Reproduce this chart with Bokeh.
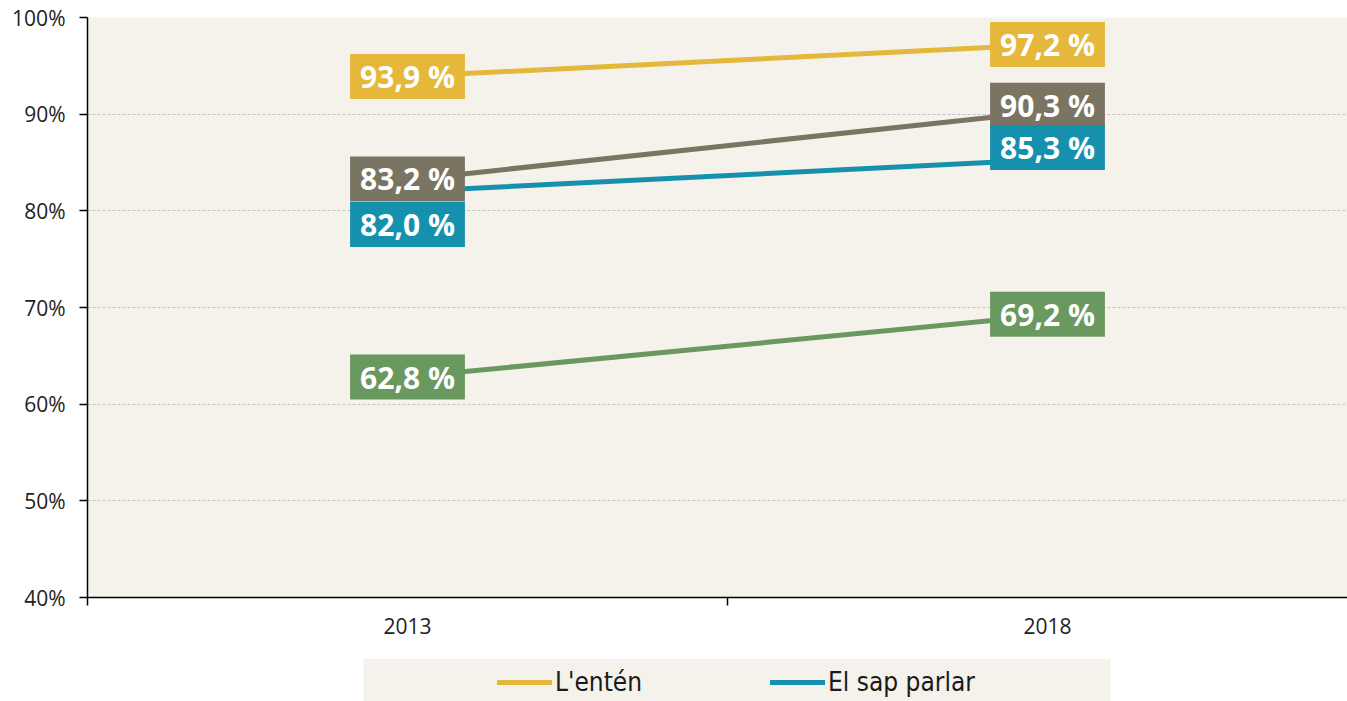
from bokeh.plotting import figure
from bokeh.models import (Range1d, FixedTicker, Legend, LegendItem, Label,
                          CustomJSTickFormatter, PrintfTickFormatter)
from bokeh.layouts import column
from bokeh.embed import file_html
from bokeh.resources import INLINE

# ---- data ----
years = ["2013", "2018"]
lenten = [93.9, 97.2]          # L'entén
sap_llegir = [83.2, 90.3]      # El sap llegir
sap_parlar = [82.0, 85.3]      # El sap parlar
sap_escriure = [62.8, 69.2]    # El sap escriure
y_ticks = [40, 50, 60, 70, 80, 90, 100]

# ---- styles ----
C_YEL = "#E5B83B"
C_GRY = "#7A7562"
C_BLU = "#1591AD"
C_GRN = "#6A9960"
BG = "#F5F1EB"

series = [
    (lenten, C_YEL, [0, 0]),
    (sap_llegir, C_GRY, [1, 6]),
    (sap_parlar, C_BLU, [-33, 12]),
    (sap_escriure, C_GRN, [0, 1]),
]

xc = [i + 0.5 for i in range(len(years))]
edges = list(range(len(years) + 1))

FRAME_W = 1260
p = figure(frame_width=FRAME_W, frame_height=580,
           min_border_left=87, min_border_top=17, min_border_right=0,
           min_border_bottom=60,
           x_range=Range1d(0, FRAME_W / 640), y_range=Range1d(40, 100),
           output_backend="svg", toolbar_location=None)
p.background_fill_color = BG
p.border_fill_color = "white"
p.outline_line_color = None

for vals, col, _ in series:
    p.line(xc, vals, line_width=5, line_color=col, line_cap="round")

for vals, col, offs in series:
    for xi, v, dy in zip(xc, vals, offs):
        p.add_layout(Label(
            x=xi, y=v, y_offset=dy,
            text=(f"{v:.1f}".replace(".", ",") + " %"),
            text_font="Open Sans", text_font_style="bold",
            text_font_size="30px", text_color="white",
            text_align="center", text_baseline="middle",
            background_fill_color=col, background_fill_alpha=1.0,
            padding=dict(left=10, right=10, top=2, bottom=2)))

# y axis
p.yaxis.ticker = FixedTicker(ticks=y_ticks)
p.yaxis.formatter = PrintfTickFormatter(format="%d%%")
p.yaxis.major_tick_out = 8
p.yaxis.major_tick_in = 0
p.yaxis.minor_tick_line_color = None
p.yaxis.axis_line_color = "black"
p.yaxis.axis_line_width = 1.5
p.yaxis.major_tick_line_color = "black"
p.yaxis.major_tick_line_width = 1.5
p.yaxis.major_label_standoff = 14
p.yaxis.major_label_text_font = "Open Sans"
p.yaxis.major_label_text_font_size = "21px"
p.yaxis.major_label_text_color = "#222222"

# x axis
p.xaxis.ticker = FixedTicker(ticks=xc, minor_ticks=edges)
p.xaxis.formatter = CustomJSTickFormatter(
    args=dict(labels=years), code="return labels[Math.round(tick - 0.5)] || '';")
p.xaxis.major_tick_line_color = None
p.xaxis.major_tick_out = 0
p.xaxis.major_tick_in = 0
p.xaxis.minor_tick_out = 8
p.xaxis.minor_tick_in = 0
p.xaxis.minor_tick_line_color = "black"
p.xaxis.minor_tick_line_width = 1.5
p.xaxis.axis_line_color = "black"
p.xaxis.axis_line_width = 1.5
p.xaxis.major_label_standoff = 12
p.xaxis.major_label_text_font = "Open Sans"
p.xaxis.major_label_text_font_size = "21px"
p.xaxis.major_label_text_color = "#222222"

p.xgrid.visible = False
p.ygrid.ticker = FixedTicker(ticks=y_ticks[1:])
p.ygrid.grid_line_color = "#C4C4C4"
p.ygrid.grid_line_dash = "3 2"
p.ygrid.grid_line_width = 1

# ---- legend strip (same frame geometry as the chart, pixel-like x range) ----
lg = figure(frame_width=FRAME_W, frame_height=43,
            min_border_left=87, min_border_right=0,
            min_border_top=1, min_border_bottom=0,
            x_range=Range1d(0, FRAME_W), y_range=Range1d(0, 1),
            output_backend="svg", toolbar_location=None)
lg.background_fill_color = "white"
lg.border_fill_color = "white"
lg.outline_line_color = None
lg.axis.visible = False
lg.grid.visible = False
lg.quad(left=276, right=1023, bottom=0, top=1,
        fill_color=BG, line_color=None)
r1 = lg.line([-10, -5], [-1, -1], line_width=5, line_color=C_YEL, line_cap="round")
r2 = lg.line([-10, -5], [-1, -1], line_width=5, line_color=C_BLU, line_cap="round")
legend = Legend(items=[LegendItem(label="L'entén", renderers=[r1]),
                       LegendItem(label="El sap parlar", renderers=[r2])],
                orientation="horizontal", location=(410, 4),
                padding=0, margin=0, spacing=128,
                glyph_width=55, glyph_height=20, label_standoff=3,
                label_text_font="DejaVu Sans Condensed",
                label_text_font_size="26px", label_text_color="#1a1a1a",
                background_fill_alpha=0, border_line_color=None)
lg.add_layout(legend, "center")

layout = column(p, lg, spacing=0)
open("out.html", "w").write(file_html(layout, INLINE))
